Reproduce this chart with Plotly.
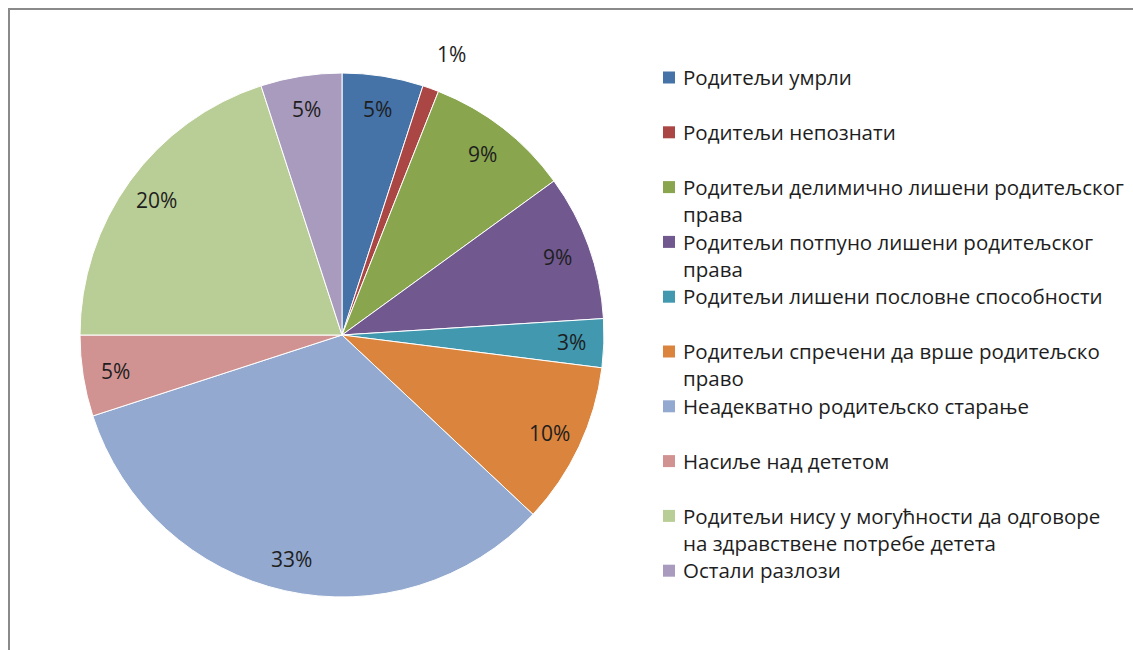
import math
import plotly.graph_objects as go

# ---- data ----
categories = [
    "Родитељи умрли",
    "Родитељи непознати",
    "Родитељи делимично лишени родитељског<br>права",
    "Родитељи потпуно лишени родитељског<br>права",
    "Родитељи лишени пословне способности",
    "Родитељи спречени да врше родитељско<br>право",
    "Неадекватно родитељско старање",
    "Насиље над дететом",
    "Родитељи нису у могућности да одговоре<br>на здравствене потребе детета",
    "Остали разлози",
]
percent_values = [5, 1, 9, 9, 3, 10, 33, 5, 20, 5]
colors = ["#4572A7", "#AA4643", "#89A54E", "#71588F", "#4198AF",
          "#DB843D", "#93A9CF", "#D19392", "#B9CD96", "#A99BBD"]

# ---- layout constants ----
W, H = 1133, 650
cx, cy, R = 342, 335, 262
FONT = "Open Sans, Noto Sans, DejaVu Sans, sans-serif"
FS = 21
LFS = 20.5
TXT = "#1e1e1e"

fig = go.Figure()
fig.add_trace(go.Pie(
    labels=[c.replace("<br>", " ") for c in categories],
    values=percent_values,
    sort=False,
    direction="clockwise",
    rotation=0,
    marker=dict(colors=colors, line=dict(color="white", width=1)),
    textinfo="none",
    hovertemplate="%{label}: %{value}%<extra></extra>",
    domain=dict(x=[(cx - R) / W, (cx + R) / W],
                y=[1 - (cy + R) / H, 1 - (cy - R) / H]),
    showlegend=False,
))

annotations = []
total = sum(percent_values)
cum = 0
for v in percent_values:
    theta = 2 * math.pi * (cum + v / 2) / total
    cum += v
    if v < 2:
        f, theta = 1.15, theta + 0.025
    else:
        f = 0.875
    px = cx + f * R * math.sin(theta)
    py = cy - f * R * math.cos(theta)
    annotations.append(dict(
        x=px / W, y=1 - py / H, xref="paper", yref="paper",
        text=f"{v}%", showarrow=False, xanchor="center", yanchor="middle",
        font=dict(family=FONT, size=FS, color=TXT)))

# manual legend (Excel-like uniform slots)
shapes = []
y0_leg, step = 77.5, 54.8
sq = 12
for k, (lab, col) in enumerate(zip(categories, colors)):
    yc = y0_leg + step * k
    shapes.append(dict(type="rect", xref="paper", yref="paper",
                       x0=663 / W, x1=(663 + sq) / W,
                       y0=1 - (yc + sq / 2) / H, y1=1 - (yc - sq / 2) / H,
                       fillcolor=col, line=dict(width=0)))
    annotations.append(dict(
        x=681 / W, y=1 - (yc - LFS * 0.65 - 3) / H, xref="paper", yref="paper",
        text=lab, showarrow=False, xanchor="left", yanchor="top", align="left",
        font=dict(family=FONT, size=LFS, color=TXT)))

# outer frame
shapes.append(dict(type="rect", xref="paper", yref="paper",
                   x0=9 / W, x1=1.02, y0=-0.02, y1=1 - 9 / H,
                   line=dict(color="#8a8a8a", width=2), fillcolor="rgba(0,0,0,0)"))

fig.update_layout(
    width=W, height=H,
    margin=dict(l=0, r=0, t=0, b=0),
    paper_bgcolor="white", plot_bgcolor="white",
    shapes=shapes, annotations=annotations,
    font=dict(family=FONT, size=FS, color=TXT),
)

fig.write_html("out.html", config={"displayModeBar": False},
               post_script="document.body.style.margin='0';")
